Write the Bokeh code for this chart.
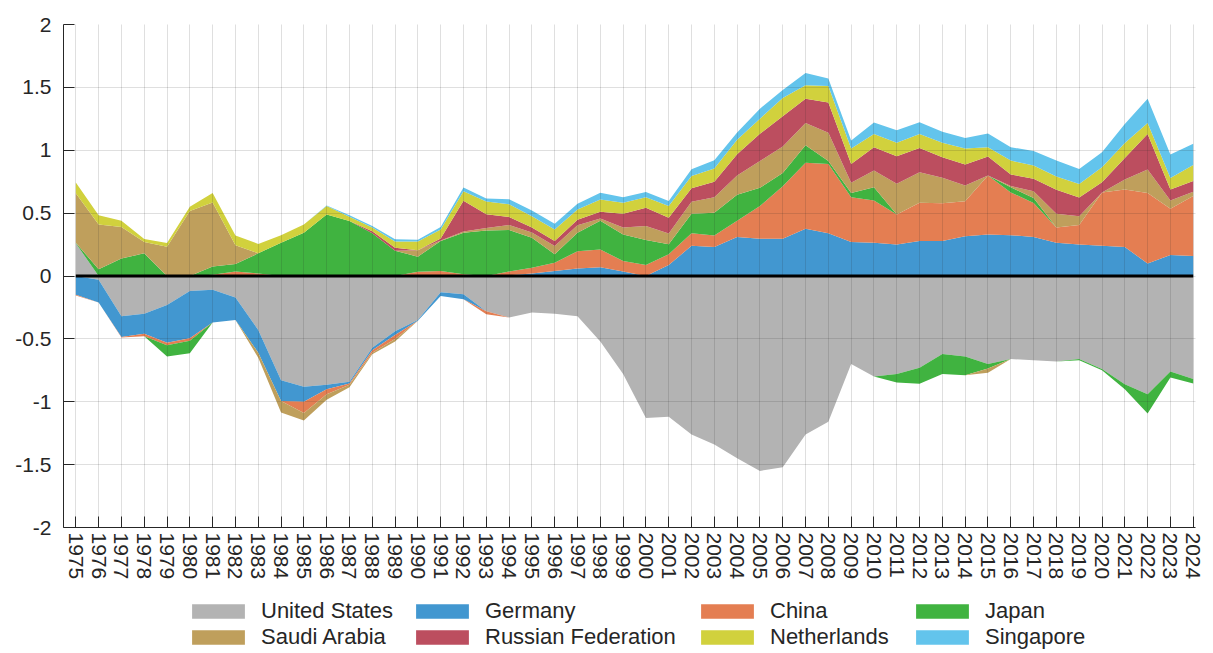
import numpy as np
from bokeh.plotting import figure
from bokeh.layouts import column
from bokeh.models import Legend, LegendItem, FixedTicker, Range1d
from bokeh.embed import file_html
from bokeh.resources import INLINE

years = list(range(1975, 2025))

countries = ["United States", "Germany", "China", "Japan",
             "Saudi Arabia", "Russian Federation", "Netherlands", "Singapore"]
colors = ["#b3b3b3", "#4297d0", "#e47e52", "#40b340",
          "#bf9f5c", "#bc4e5f", "#d1d13d", "#63c4ec"]

united_states = [0.26, -0.03, -0.32, -0.30, -0.23, -0.12, -0.11, -0.17, -0.43, -0.83,
                 -0.88, -0.865, -0.84, -0.57, -0.44, -0.35, -0.13, -0.145, -0.28, -0.33,
                 -0.29, -0.30, -0.32, -0.52, -0.78, -1.13, -1.12, -1.26, -1.34, -1.45,
                 -1.55, -1.52, -1.26, -1.16, -0.70, -0.80, -0.78, -0.73, -0.62, -0.64,
                 -0.70, -0.66, -0.67, -0.68, -0.66, -0.74, -0.86, -0.94, -0.76, -0.82]
germany = [-0.15, -0.18, -0.165, -0.16, -0.30, -0.375, -0.26, -0.18, -0.18, -0.165,
           -0.12, -0.035, -0.015, -0.02, -0.03, -0.005, -0.03, -0.04, 0.0, 0.005,
           0.02, 0.04, 0.06, 0.07, 0.035, 0.0, 0.087, 0.24, 0.23, 0.31,
           0.296, 0.296, 0.376, 0.34, 0.27, 0.265, 0.25, 0.278, 0.278, 0.317,
           0.33, 0.325, 0.31, 0.265, 0.25, 0.24, 0.23, 0.10, 0.167, 0.16]
china = [-0.005, 0.0, -0.005, -0.02, -0.02, -0.02, 0.01, 0.035, 0.02, 0.0,
         -0.09, -0.04, -0.01, -0.02, -0.03, 0.034, 0.04, 0.013, -0.025, 0.03,
         0.045, 0.066, 0.137, 0.14, 0.085, 0.087, 0.085, 0.10, 0.093, 0.13,
         0.26, 0.418, 0.524, 0.55, 0.357, 0.335, 0.24, 0.304, 0.30, 0.278,
         0.47, 0.34, 0.27, 0.12, 0.155, 0.425, 0.458, 0.56, 0.367, 0.476]
japan = [0.005, 0.053, 0.14, 0.18, -0.09, -0.10, 0.065, 0.06, 0.16, 0.265,
         0.344, 0.49, 0.437, 0.34, 0.20, 0.12, 0.238, 0.33, 0.362, 0.33,
         0.24, 0.066, 0.146, 0.23, 0.21, 0.20, 0.08, 0.156, 0.18, 0.206,
         0.145, 0.106, 0.14, 0.025, 0.034, 0.106, -0.066, -0.127, -0.16, -0.15,
         -0.035, 0.04, 0.04, 0.0, -0.01, -0.01, -0.04, -0.153, -0.047, -0.034]
saudi_arabia = [0.393, 0.357, 0.25, 0.09, 0.233, 0.516, 0.51, 0.15, -0.04, -0.09,
                -0.06, -0.045, -0.02, -0.012, -0.02, 0.05, 0.005, 0.01, 0.02, 0.04,
                0.04, 0.066, 0.06, 0.018, 0.055, 0.11, 0.085, 0.095, 0.124, 0.153,
                0.213, 0.21, 0.177, 0.225, 0.08, 0.133, 0.243, 0.243, 0.203, 0.125,
                -0.035, 0.01, 0.053, 0.11, 0.07, 0.0, 0.08, 0.186, 0.066, 0.034]
russian_federation = [0.0, 0.0, 0.0, 0.0, 0.0, 0.0, 0.0, 0.0, 0.0, 0.0,
                      0.0, 0.0, 0.0, 0.015, 0.025, 0.0, 0.015, 0.245, 0.11, 0.065,
                      0.04, 0.04, 0.045, 0.053, 0.11, 0.145, 0.127, 0.106, 0.122, 0.17,
                      0.217, 0.24, 0.193, 0.24, 0.15, 0.185, 0.22, 0.193, 0.164, 0.166,
                      0.15, 0.093, 0.10, 0.19, 0.15, 0.08, 0.17, 0.283, 0.088, 0.085]
netherlands = [0.085, 0.074, 0.05, 0.025, 0.03, 0.035, 0.075, 0.077, 0.075, 0.06,
               0.066, 0.066, 0.035, 0.03, 0.05, 0.07, 0.072, 0.075, 0.10, 0.10,
               0.09, 0.092, 0.08, 0.098, 0.087, 0.085, 0.093, 0.098, 0.106, 0.114,
               0.12, 0.145, 0.106, 0.13, 0.123, 0.106, 0.106, 0.112, 0.114, 0.127,
               0.074, 0.11, 0.105, 0.106, 0.106, 0.12, 0.12, 0.087, 0.092, 0.127]
singapore = [0.0, 0.0, 0.0, 0.0, 0.0, 0.0, 0.0, 0.0, 0.0, 0.0,
             0.0, 0.005, 0.012, 0.012, 0.018, 0.015, 0.02, 0.03, 0.025, 0.04,
             0.045, 0.045, 0.047, 0.053, 0.045, 0.04, 0.04, 0.053, 0.066, 0.058,
             0.08, 0.065, 0.098, 0.06, 0.064, 0.09, 0.10, 0.092, 0.088, 0.085,
             0.11, 0.106, 0.117, 0.127, 0.12, 0.12, 0.15, 0.193, 0.186, 0.17]

y_ticks = [-2, -1.5, -1, -0.5, 0, 0.5, 1, 1.5, 2]
y_tick_labels = ["-2", "-1.5", "-1", "-0.5", "0", "0.5", "1", "1.5", "2"]

series = [united_states, germany, china, japan, saudi_arabia,
          russian_federation, netherlands, singapore]

vals = np.array(series, dtype=float)
pos = np.clip(vals, 0, None)
neg = np.clip(vals, None, 0)
zeros = np.zeros(len(years))
cum_pos = np.vstack([zeros, np.cumsum(pos, axis=0)])
cum_neg = np.vstack([zeros, np.cumsum(neg, axis=0)])

FONT = "Liberation Sans"
TXT = "#262626"
W = 1208

# ---------------- main chart ----------------
p = figure(width=W, height=584, output_backend="svg", toolbar_location=None,
           x_range=Range1d(1974.46, 2024.1), y_range=Range1d(-2, 2),
           min_border_left=63, min_border_right=13, min_border_top=24,
           min_border_bottom=57)
p.outline_line_color = None
p.background_fill_color = "white"

for i, name in enumerate(countries):
    p.varea(x=years, y1=cum_pos[i], y2=cum_pos[i + 1],
            fill_color=colors[i], fill_alpha=1.0)
    p.varea(x=years, y1=cum_neg[i], y2=cum_neg[i + 1],
            fill_color=colors[i], fill_alpha=1.0)

zl = p.line(x=years, y=zeros, line_color="black", line_width=2.8)
zl.level = "overlay"

for g in (p.xgrid, p.ygrid):
    g.grid_line_color = "#262626"
    g.grid_line_alpha = 0.15
    g.grid_line_width = 1
    g.level = "guide"
p.xgrid.ticker = FixedTicker(ticks=years)
p.ygrid.ticker = FixedTicker(ticks=y_ticks)

p.xaxis.ticker = FixedTicker(ticks=years)
p.yaxis.ticker = FixedTicker(ticks=y_ticks)
p.yaxis.major_label_overrides = {t: s for t, s in zip(y_ticks, y_tick_labels)}
p.xaxis.major_label_orientation = "vertical"
for ax in (p.xaxis[0], p.yaxis[0]):
    ax.axis_line_color = TXT
    ax.axis_line_width = 1
    ax.major_tick_line_color = TXT
    ax.major_tick_in = 11
    ax.major_tick_out = 0
    ax.minor_tick_line_color = None
    ax.major_label_text_font = FONT
    ax.major_label_text_font_size = "21px"
    ax.major_label_text_color = TXT
p.xaxis.major_label_standoff = 5
p.yaxis.major_label_standoff = 12

# ---------------- legend strip ----------------
leg = figure(width=W, height=66, output_backend="svg", toolbar_location=None,
             x_range=Range1d(0, 1), y_range=Range1d(0, 1),
             x_axis_location=None, y_axis_location=None,
             min_border_left=0, min_border_right=0, min_border_top=0,
             min_border_bottom=0)
leg.outline_line_color = None
leg.grid.visible = False

swatches = []
for i, name in enumerate(countries):
    r = leg.varea(x=[0, 0], y1=[0, 0], y2=[0, 0], fill_color=colors[i])
    swatches.append(LegendItem(label=name, renderers=[r]))

col_x = [122, 346, 631, 846]
for c, x0 in enumerate(col_x):
    lg = Legend(items=[swatches[c], swatches[c + 4]], location=(x0, 0),
                orientation="vertical")
    lg.label_text_font = FONT
    lg.label_text_font_size = "22px"
    lg.label_text_color = TXT
    lg.glyph_width = 66
    lg.glyph_height = 18
    lg.label_standoff = 10
    lg.label_height = 25
    lg.spacing = 0
    lg.padding = 0
    lg.margin = 0
    lg.border_line_color = None
    lg.background_fill_alpha = 0
    leg.add_layout(lg, "center")

layout = column(p, leg, spacing=0)
open("out.html", "w").write(file_html(layout, INLINE))
